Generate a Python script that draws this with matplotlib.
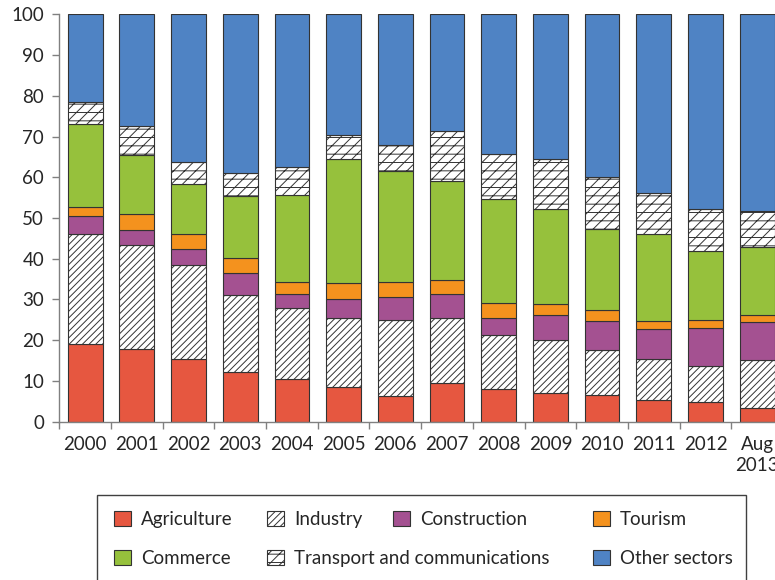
import numpy as np
import matplotlib
matplotlib.use('Agg')
import matplotlib.pyplot as plt
from matplotlib.patches import Patch, Rectangle

plt.rcParams['font.family'] = ['Lato', 'DejaVu Sans']
plt.rcParams['hatch.linewidth'] = 0.7

years = ['2000', '2001', '2002', '2003', '2004', '2005', '2006', '2007',
         '2008', '2009', '2010', '2011', '2012', 'Aug\n2013']

agriculture = [19.0, 17.8, 15.5, 12.1, 10.6, 8.6, 6.4, 9.4, 8.0, 7.0, 6.5, 5.3, 4.9, 3.4]
industry = [27.0, 25.5, 22.9, 19.1, 17.2, 16.8, 18.5, 16.1, 13.3, 13.0, 11.1, 10.1, 8.8, 11.7]
construction = [4.4, 3.7, 4.0, 5.3, 3.5, 4.6, 5.7, 5.8, 4.1, 6.2, 7.0, 7.3, 9.2, 9.3]
tourism = [2.3, 3.9, 3.7, 3.6, 3.1, 4.0, 3.7, 3.4, 3.7, 2.6, 2.7, 2.1, 2.1, 1.8]
commerce = [20.4, 14.5, 12.2, 15.4, 21.2, 30.5, 27.2, 24.4, 25.5, 23.3, 19.9, 21.2, 16.9, 16.8]
transport = [5.3, 7.1, 5.4, 5.6, 6.8, 5.9, 6.3, 12.2, 11.2, 12.3, 12.8, 10.1, 10.3, 8.7]
other = [21.6, 27.5, 36.3, 38.9, 37.6, 29.6, 32.2, 28.7, 34.2, 35.6, 40.0, 43.9, 47.8, 48.3]

series = [
    ('Agriculture', agriculture, '#E65740', ''),
    ('Industry', industry, 'white', '/////'),
    ('Construction', construction, '#A45191', ''),
    ('Tourism', tourism, '#F4921E', ''),
    ('Commerce', commerce, '#96C13C', ''),
    ('Transport and communications', transport, 'white', '///--'),
    ('Other sectors', other, '#4F83C4', ''),
]

W, H = 775, 580
edge = '#333333'
text_col = '#262626'
fs = 13.5

fig = plt.figure(figsize=(W / 100, H / 100), dpi=100)
ax = fig.add_axes([59.3 / W, 158.3 / H, 723.7 / W, 407.4 / H])

x = np.arange(len(years))
bottom = np.zeros(len(years))
handles = {}
for name, vals, color, hatch in series:
    ax.bar(x, vals, width=0.672, bottom=bottom, color=color, edgecolor=edge,
           hatch=hatch, linewidth=0.8, zorder=2)
    bottom += np.array(vals)
    handles[name] = Patch(facecolor=color, edgecolor=edge, hatch=hatch, linewidth=0.8)

ax.set_xlim(-0.5, len(years) - 0.5)
ax.set_ylim(0, 100)
ax.set_yticks(np.arange(0, 101, 10))
ax.set_xticks(x)
ax.set_xticklabels(years, linespacing=1.3)
# small ticks between the categories
ax.set_xticks([-0.5] + list(x[:-1] + 0.5), minor=True)

for s in ['top', 'right']:
    ax.spines[s].set_visible(False)
for s in ['left', 'bottom']:
    ax.spines[s].set_color('#808080')
    ax.spines[s].set_linewidth(1.0)

ax.tick_params(axis='y', length=5, width=1, color='#808080', pad=6,
               labelsize=fs, labelcolor=text_col)
ax.tick_params(axis='x', which='major', length=0, pad=10,
               labelsize=fs, labelcolor=text_col)
ax.tick_params(axis='x', which='minor', length=5, width=1, color='#808080')

# legend frame
fig.patches.append(Rectangle((97 / W, -0.05), (746 - 97) / W, 1 - 495 / H + 0.05,
                             transform=fig.transFigure, facecolor='none',
                             edgecolor='#404040', linewidth=1.0))

columns = [
    (114, ['Agriculture', 'Commerce']),
    (267, ['Industry', 'Transport and communications']),
    (393, ['Construction']),
    (593, ['Tourism', 'Other sectors']),
]
for left, names in columns:
    leg = fig.legend([handles[n] for n in names], names, loc='upper left',
                     bbox_to_anchor=(left / W, 1 - 511 / H), frameon=False,
                     borderpad=0, borderaxespad=0, handlelength=0.88,
                     handleheight=0.88, handletextpad=0.55, labelspacing=1.15,
                     fontsize=fs)
    for t in leg.get_texts():
        t.set_color(text_col)

fig.savefig('out.png', dpi=100)
